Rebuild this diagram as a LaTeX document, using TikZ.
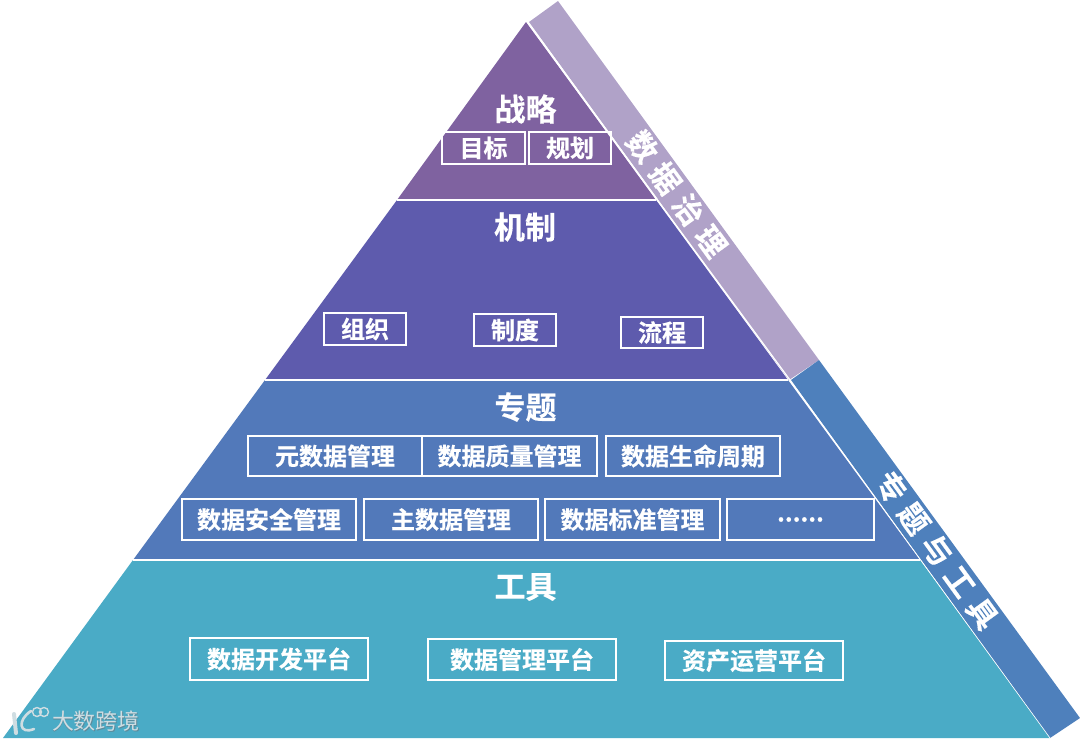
\documentclass[tikz,border=0pt]{standalone}
\usepackage{fontspec}
\setmainfont{Noto Sans CJK SC}
\newfontfamily\cjkb{Noto Sans CJK SC Bold}[FakeBold=0.4]
\newfontfamily\cjkw{Noto Sans CJK SC}
\newcommand{\fsz}[1]{\fontsize{#1}{#1}\selectfont\cjkb}
\definecolor{cA}{HTML}{7F62A0}
\definecolor{cB}{HTML}{5E5BAD}
\definecolor{cC}{HTML}{5279BA}
\definecolor{cD}{HTML}{4AABC6}
\definecolor{bandP}{HTML}{B0A2C8}
\definecolor{bandB}{HTML}{4E80BC}
\definecolor{wm}{HTML}{CFDDE2}
\definecolor{wmd}{HTML}{5E8A9A}
\tikzset{
  title/.style={text=white,font=\fsz{31},inner sep=0pt,anchor=center},
  sidetext/.style={text=white,font=\fsz{30},inner sep=0pt,anchor=center,rotate=-54},
  itembox/.style={draw=white,line width=1.4pt,text=white,font=\fsz{24},inner sep=0pt,anchor=center},
}
\newcommand{\itm}[6]{% name x0 y0 x1 y1 text
  \node[itembox,minimum width={#4-#2},minimum height={#5-#3}] (#1) at ({(#2+#4)/2},{(#3+#5)/2}) {#6};}
\begin{document}
\begin{tikzpicture}[x=1pt,y=-1pt]
\useasboundingbox (0,0) rectangle (1080,740);
% side bands
\fill[bandP] (529,22) -- (558,1) -- (819,360) -- (789,380) -- cycle;
\fill[bandB] (791,380) -- (819,360) -- (1080,718) -- (1050,738) -- cycle;
% layers
\fill[cA] (526,22) -- (656,200) -- (397,200) -- cycle;
\fill[cB] (397,200) -- (656,200) -- (788,380) -- (265,380) -- cycle;
\fill[cC] (265,380) -- (788,380) -- (920,560) -- (133,560) -- cycle;
\fill[cD] (133,560) -- (920,560) -- (1050,738) -- (3,738) -- cycle;
\draw[white,line width=1.4pt] (397,200) -- (656,200);
\draw[white,line width=1.4pt] (265,380) -- (788,380);
\draw[white,line width=1.4pt] (133,560) -- (920,560);
\draw[white,line width=1.6pt] (527.5,22) -- (657.5,200);
\draw[white,line width=1.2pt] (657.5,200) -- (790,380);
\draw[white,line width=0.6pt] (790,380) -- (1050,738);
% titles
\node[title] (t1) at (525.5,109) {战略};
\node[title] (t2) at (525,227) {机制};
\node[title] (t3) at (525.5,407) {专题};
\node[title] (t4) at (525.5,587) {工具};
% boxes
\itm{a1}{442}{132}{525}{164}{目标}
\itm{a2}{529}{132}{611}{164}{规划}
\itm{b1}{324}{313}{406}{345}{组织}
\itm{b2}{474}{314}{556}{346}{制度}
\itm{b3}{621}{317}{703}{348}{流程}
\itm{c1}{248}{436}{422}{476}{元数据管理}
\itm{c2}{422}{436}{597}{476}{数据质量管理}
\itm{c3}{606}{436}{780}{476}{数据生命周期}
\itm{d1}{182}{499}{356}{540}{数据安全管理}
\itm{d2}{364}{499}{538}{540}{主数据管理}
\itm{d3}{545}{499}{720}{540}{数据标准管理}
\itm{d4}{727}{499}{874}{540}{......}
\itm{e1}{190}{638}{368}{680}{数据开发平台}
\itm{e2}{428}{639}{616}{680}{数据管理平台}
\itm{e3}{665}{641}{843}{680}{资产运营平台}
% side labels
\node[sidetext] (s1) at (677,194) {数\hspace{9pt}据\hspace{9pt}治\hspace{9pt}理};
\node[sidetext] (s2) at (937,550) {专\hspace{9pt}题\hspace{9pt}与\hspace{9pt}工\hspace{9pt}具};
% watermark
\node[text=wmd,font=\fontsize{22}{22}\selectfont\cjkw,inner sep=0pt] (wd) at (96.8,721.8) {大数跨境};
\node[text=wm,font=\fontsize{22}{22}\selectfont\cjkw,inner sep=0pt] (w) at (96,721) {大数跨境};
\draw[wm,line width=4pt,line cap=round] (14,714) -- (16,733);
\draw[wm,line width=2.6pt,line cap=round] (31,711) .. controls (17,720) and (19,735) .. (34,729);
\draw[wm,line width=1.4pt] (37,712) circle (4.5) (44,712) circle (4.5);
\end{tikzpicture}
\end{document}
